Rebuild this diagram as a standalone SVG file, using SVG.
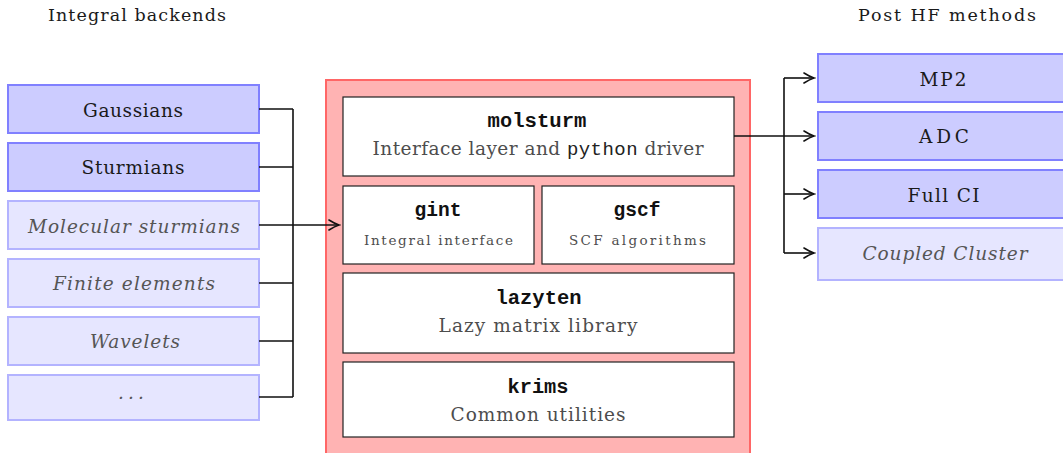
<svg xmlns="http://www.w3.org/2000/svg" width="1063" height="453" viewBox="0 0 1063 453">
<style>
.bd{fill:#ccccff;stroke:#8080ff;stroke-width:2}
.bl{fill:#e6e6ff;stroke:#b3b3ff;stroke-width:2}
.in{fill:#ffffff;stroke:#222222;stroke-width:1.2}
.t{font-family:"DejaVu Serif","Liberation Serif",serif;font-size:18.5px;fill:#1a1a1a;text-anchor:middle}
.ti{font-family:"DejaVu Serif","Liberation Serif",serif;font-size:18.5px;font-style:italic;fill:#555555;text-anchor:middle}
.g{font-family:"DejaVu Serif","Liberation Serif",serif;font-size:18.5px;fill:#4d4d4d;text-anchor:middle}
.gs{font-family:"DejaVu Serif","Liberation Serif",serif;font-size:13.5px;fill:#4d4d4d;text-anchor:middle}
.m{font-family:"Liberation Mono","Courier New",monospace;font-size:20px;font-weight:bold;fill:#111111;text-anchor:middle}
.mp{font-family:"Liberation Mono","Courier New",monospace;font-size:19px;font-weight:normal;fill:#222222}
.h{font-family:"DejaVu Serif","Liberation Serif",serif;font-size:17.5px;fill:#1a1a1a;text-anchor:middle}
.c{fill:none;stroke:#111111;stroke-width:1.6}
</style>
<defs>
<marker id="ah" markerUnits="userSpaceOnUse" markerWidth="14" markerHeight="14" viewBox="-12 -7 14 14" refX="0" refY="0" orient="auto">
<path d="M-10,-5 Q-4,-1.2 0,0 Q-4,1.2 -10,5" fill="none" stroke="#111111" stroke-width="1.6" stroke-linecap="round"/>
</marker>
</defs>
<text class="h" x="137" y="21" textLength="178" lengthAdjust="spacing">Integral backends</text>
<text class="h" x="947" y="21" textLength="178" lengthAdjust="spacing">Post HF methods</text>
<g id="core">
<rect x="326" y="80" width="424" height="380" fill="#ffb3b3" stroke="#ff6666" stroke-width="2"/>
</g>
<g id="gaussians"><rect class="bd" x="8" y="85" width="251" height="48"/><text class="t" x="133" y="117" textLength="100" lengthAdjust="spacing">Gaussians</text></g>
<g id="sturmians"><rect class="bd" x="8" y="143" width="251" height="48"/><text class="t" x="133" y="174" textLength="103" lengthAdjust="spacing">Sturmians</text></g>
<g id="molecular"><rect class="bl" x="8" y="201" width="251" height="48"/><text class="ti" x="134" y="233" textLength="212" lengthAdjust="spacing">Molecular sturmians</text></g>
<g id="finite"><rect class="bl" x="8" y="259" width="251" height="48"/><text class="ti" x="134" y="290" textLength="162" lengthAdjust="spacing">Finite elements</text></g>
<g id="wavelets"><rect class="bl" x="8" y="317" width="251" height="48"/><text class="ti" x="135" y="348" textLength="90" lengthAdjust="spacing">Wavelets</text></g>
<g id="more"><rect class="bl" x="8" y="375" width="251" height="45"/><text class="ti" x="131" y="399" textLength="26" lengthAdjust="spacing">. . .</text></g>
<g id="molsturm"><rect class="in" x="343" y="97" width="391" height="79"/>
<text class="m" x="537" y="127" textLength="99" lengthAdjust="spacingAndGlyphs">molsturm</text>
<text class="g" x="538" y="155" textLength="331" lengthAdjust="spacing">Interface layer and <tspan class="mp">python</tspan> driver</text></g>
<g id="gint"><rect class="in" x="343" y="186" width="191" height="78"/>
<text class="m" x="438" y="216" textLength="47" lengthAdjust="spacingAndGlyphs">gint</text>
<text class="gs" x="438.5" y="245" textLength="149" lengthAdjust="spacing">Integral interface</text></g>
<g id="gscf"><rect class="in" x="542" y="186" width="192" height="78"/>
<text class="m" x="637" y="216" textLength="47" lengthAdjust="spacingAndGlyphs">gscf</text>
<text class="gs" x="637.5" y="245" textLength="137" lengthAdjust="spacing">SCF algorithms</text></g>
<g id="lazyten"><rect class="in" x="343" y="273" width="391" height="80"/>
<text class="m" x="538.5" y="304" textLength="86" lengthAdjust="spacingAndGlyphs">lazyten</text>
<text class="g" x="538" y="332" textLength="199" lengthAdjust="spacing">Lazy matrix library</text></g>
<g id="krims"><rect class="in" x="343" y="362" width="391" height="75"/>
<text class="m" x="538" y="393" textLength="61" lengthAdjust="spacingAndGlyphs">krims</text>
<text class="g" x="538" y="421" textLength="175" lengthAdjust="spacing">Common utilities</text></g>
<g id="mp2"><rect class="bd" x="818" y="54" width="251" height="48"/><text class="t" x="943" y="86" textLength="47" lengthAdjust="spacing">MP2</text></g>
<g id="adc"><rect class="bd" x="818" y="112" width="251" height="48"/><text class="t" x="944" y="143" textLength="50" lengthAdjust="spacing">ADC</text></g>
<g id="fullci"><rect class="bd" x="818" y="170" width="251" height="48"/><text class="t" x="943.5" y="202" textLength="72" lengthAdjust="spacing">Full CI</text></g>
<g id="cc"><rect class="bl" x="818" y="228" width="251" height="52"/><text class="ti" x="945" y="260" textLength="165" lengthAdjust="spacing">Coupled Cluster</text></g>
<g id="connectors">
<path class="c" d="M259,109 H293 M259,167 H293 M259,283 H293 M259,341 H293 M259,397 H293 M293,109 V397"/>
<path class="c" d="M259,225 H339" marker-end="url(#ah)"/>
<path class="c" d="M734,136 H814" marker-end="url(#ah)"/>
<path class="c" d="M784,78 V253"/>
<path class="c" d="M784,78 H814" marker-end="url(#ah)"/>
<path class="c" d="M784,194 H814" marker-end="url(#ah)"/>
<path class="c" d="M784,253 H814" marker-end="url(#ah)"/>
</g>
</svg>
